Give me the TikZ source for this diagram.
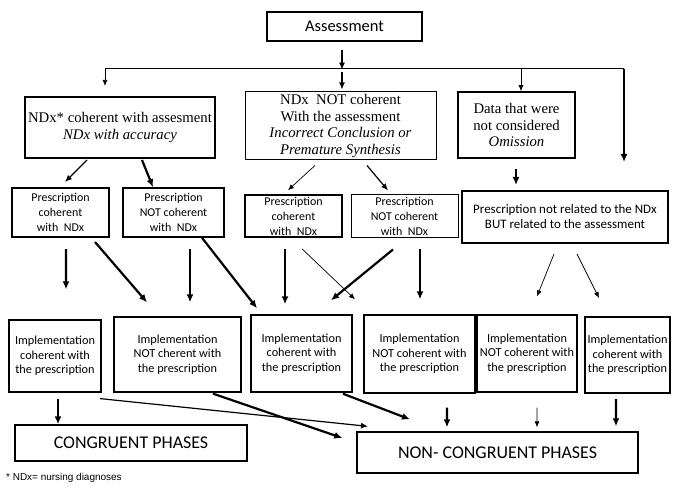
\documentclass[tikz,border=0pt]{standalone}
\usepackage{fontspec}
\setmainfont{Liberation Serif}
\newfontfamily\calib{Carlito}
\newfontfamily\arialf{Liberation Sans}
\usetikzlibrary{arrows.meta}
\tikzset{
  bx/.style={draw, align=center, inner sep=1bp, line width=#1},
  bx/.default=1bp,
  fAs/.style={font=\calib\fontsize{16.5}{19}\selectfont},
  fSer/.style={font=\fontsize{14.8}{17}\selectfont},
  fPr/.style={font=\calib\fontsize{12}{15}\selectfont},
  fPw/.style={font=\calib\fontsize{13}{15}\selectfont},
  fIm/.style={font=\calib\fontsize{12.3}{14.5}\selectfont},
  fPh/.style={font=\calib\fontsize{18}{20}\selectfont},
  arrT/.style={-{Latex[length=6bp,width=5bp]}, line width=0.7bp},
  arrM/.style={-{Latex[length=7bp,width=6bp]}, line width=1.2bp},
  arrK/.style={-{Latex[length=8bp,width=7bp]}, line width=2.2bp},
}
\begin{document}
\begin{tikzpicture}[x=1bp,y=-1bp]
\useasboundingbox (0,0) rectangle (674,490);
% top
\node[bx=1.3bp, fAs, minimum width=155bp, minimum height=29bp] (As) at (344.5,26.5) {Assessment};
\node[bx=2bp, fSer, minimum width=190bp, minimum height=61bp, inner sep=0pt] (N1) at (120,127.5) {NDx* coherent with assesment\\\textit{NDx with accuracy}};
\node[bx=1bp, fSer, minimum width=191bp, minimum height=68bp, inner sep=0pt] (N2) at (340.5,126) {NDx~ NOT coherent\\With the assessment\\\textit{Incorrect Conclusion or}\\\textit{Premature Synthesis}};
\node[bx=1.6bp, fSer, minimum width=117bp, minimum height=66bp, inner sep=0pt] (N3) at (516.5,125) {Data that were\\not considered\\\textit{Omission}};
% prescriptions
\node[bx=2bp, fPr, minimum width=97bp, minimum height=49bp] (P1) at (60.5,212.5) {Prescription\\coherent\\with~ NDx};
\node[bx=1.6bp, fPr, minimum width=101bp, minimum height=49bp] (P2) at (173.5,212.5) {Prescription\\NOT coherent\\with~ NDx};
\node[bx=1.6bp, fPr, minimum width=97bp, minimum height=42bp, inner sep=0pt] (P3) at (293.5,216) {Prescription\\coherent\\with~ NDx};
\node[bx=1bp, fPr, minimum width=107bp, minimum height=42bp, inner sep=0pt] (P4) at (404.5,216) {Prescription\\NOT coherent\\with~ NDx};
\node[bx=2bp, fPw, minimum width=206bp, minimum height=52bp, inner sep=0pt] (P5) at (565,217) {Prescription not related to the NDx\\BUT related to the assessment};
% implementations
\node[bx=1.2bp, fIm, minimum width=92bp, minimum height=72bp, inner sep=0pt] (I1) at (55,356) {Implementation\\coherent with\\the prescription};
\node[bx=1.3bp, fIm, minimum width=127bp, minimum height=75bp] (I2) at (177.5,354.5) {Implementation\\NOT cherent with\\the prescription};
\node[bx=1.5bp, fIm, minimum width=101bp, minimum height=77bp] (I3) at (301.5,353.5) {Implementation\\coherent with\\the prescription};
\node[bx=1.3bp, fIm, minimum width=111bp, minimum height=78bp, inner sep=0pt] (I4) at (419.5,354) {Implementation\\NOT coherent with\\the prescription};
\node[bx=1.3bp, fIm, minimum width=100bp, minimum height=77bp, inner sep=0pt] (I5) at (527,353.5) {Implementation\\NOT coherent with\\the prescription};
\node[bx=2bp, fIm, minimum width=85bp, minimum height=76bp, inner sep=0pt] (I6) at (627.5,355) {Implementation\\coherent with\\the prescription};
% phases
\node[bx=1.5bp, fPh, minimum width=232bp, minimum height=36bp] (Cg) at (131,443) {CONGRUENT PHASES};
\node[bx=1.3bp, fPh, minimum width=281bp, minimum height=41bp] (Nc) at (497.5,452.5) {NON- CONGRUENT PHASES};
\node[anchor=west, inner sep=0pt, font=\arialf\fontsize{10}{12}\selectfont] (fn) at (6,478) {* NDx= nursing diagnoses};
% branching line
\coordinate (jL) at (105,69);
\coordinate (jR) at (624,69);
\draw[line width=1bp] (jL) -- (jR);
\draw[arrM] ([shift={(-2.5,8)}]As.south) -- ([shift={(-2.5,28)}]As.south);
\draw[arrT] (jL) -- ([shift={(-15,-10)}]N1.north);
\draw[arrM] ([shift={(1.5,-19)}]N2.north) -- ([shift={(1.5,-2)}]N2.north);
\draw[arrT] ([shift={(4.5,-23)}]N3.north) -- ([shift={(4.5,0)}]N3.north);
\draw[arrK] (jR) -- ([shift={(59,-28)}]P5.north);
% second level
\draw[arrM] ([shift={(-33,1)}]N1.south) -- ([shift={(4.5,-5)}]P1.north);
\draw[arrK] ([shift={(22,1)}]N1.south) -- ([shift={(-20.5,0)}]P2.north);
\draw[arrT] ([shift={(-25.5,5)}]N2.south) -- ([shift={(-5.5,-4)}]P3.north);
\draw[arrM] ([shift={(26.5,5)}]N2.south) -- ([shift={(-16.5,-4)}]P4.north);
\draw[arrK] ([shift={(-0.5,10)}]N3.south) -- ([shift={(-49,-5)}]P5.north);
% third level
\draw[arrK] ([shift={(5.5,11)}]P1.south) -- ([shift={(11,-30)}]I1.north);
\draw[arrK] ([shift={(34.5,4)}]P1.south) -- ([shift={(-30.5,-14)}]I2.north);
\draw[arrK] ([shift={(16.5,11)}]P2.south) -- ([shift={(12.5,-14)}]I2.north);
\draw[arrK] ([shift={(28.5,0)}]P2.south) -- ([shift={(-44.5,-6)}]I3.north);
\draw[arrK] ([shift={(-8.5,11)}]P3.south) -- ([shift={(-16.5,-10)}]I3.north);
\draw[arrT] ([shift={(8.5,11)}]P3.south) -- ([shift={(-64.5,-15)}]I4.north);
\draw[arrK] ([shift={(-11.5,12)}]P4.south) -- ([shift={(29.5,-14)}]I3.north);
\draw[arrK] ([shift={(15.5,11)}]P4.south) -- ([shift={(0.5,-15)}]I4.north);
\draw[arrT] ([shift={(-11,10)}]P5.south) -- ([shift={(10,-18)}]I5.north);
\draw[arrT] ([shift={(12,10)}]P5.south) -- ([shift={(-28.5,-18)}]I6.north);
% bottom level
\draw[arrK] ([shift={(3,6)}]I1.south) -- ([shift={(-73,0)}]Cg.north);
\draw[arrM] ([shift={(45,6)}]I1.south) -- ([shift={(-129.5,-5)}]Nc.north);
\draw[arrK] ([shift={(35.5,1)}]I2.south) -- ([shift={(-14,-14.5)}]Nc.west);
\draw[arrK] ([shift={(41.5,1)}]I3.south) -- ([shift={(-87.5,-12)}]Nc.north);
\draw[arrK] ([shift={(27.5,14)}]I4.south) -- ([shift={(-50.5,-4)}]Nc.north);
\draw[arrT] ([shift={(10,15)}]I5.south) -- ([shift={(39.5,-4)}]Nc.north);
\draw[arrK] ([shift={(-11.5,5)}]I6.south) -- ([shift={(118.5,-5)}]Nc.north);
\end{tikzpicture}
\end{document}
